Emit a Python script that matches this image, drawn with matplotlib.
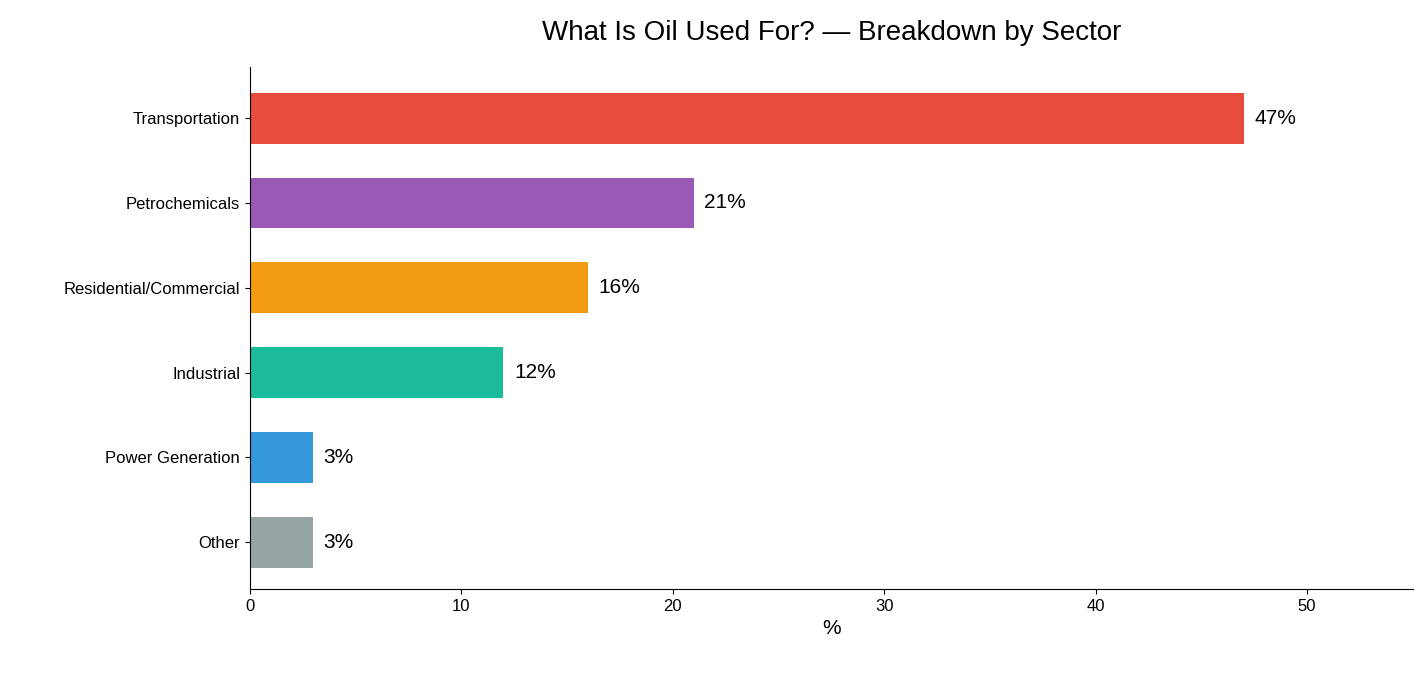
import matplotlib
matplotlib.use("Agg")
import matplotlib.pyplot as plt

categories = ["Transportation", "Petrochemicals", "Residential/Commercial", "Industrial", "Power Generation", "Other"]
values = [47, 21, 16, 12, 3, 3]
colors = ["#e74c3c", "#9b59b6", "#f39c12", "#1abc9c", "#3498db", "#95a5a6"]

plt.rcParams['font.family'] = ['Liberation Sans', 'DejaVu Sans']
fig, ax = plt.subplots(figsize=(14.27, 6.73), dpi=100)
y = list(range(len(categories)))[::-1]
ax.barh(y, values, color=colors, height=0.6)
for yi, v in zip(y, values):
    ax.text(v + 0.5, yi, f"{v}%", va="center", ha="left", fontsize=15)
ax.set_yticks(y)
ax.set_yticklabels(categories, fontsize=12)
ax.tick_params(axis='x', labelsize=12)
ax.set_xlim(0, 55)
ax.set_ylim(-0.55, 5.6)
ax.set_xlabel("%", fontsize=15)
ax.set_title("What Is Oil Used For? — Breakdown by Sector", fontsize=20, pad=20)
ax.spines['top'].set_visible(False)
ax.spines['right'].set_visible(False)
plt.subplots_adjust(left=0.175, right=0.99, top=0.9, bottom=0.125)
fig.savefig("out.png")
